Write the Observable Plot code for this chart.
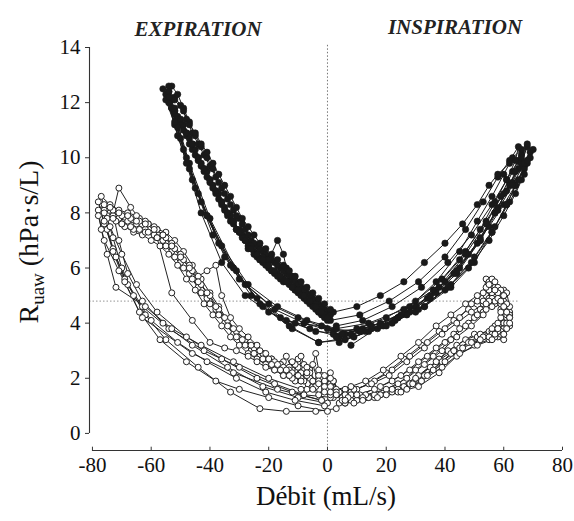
<!DOCTYPE html>
<html><head><meta charset="utf-8">
<script src="https://cdn.jsdelivr.net/npm/d3@7"></script>
<script src="https://cdn.jsdelivr.net/npm/@observablehq/plot@0.6"></script>
<style>body{margin:0;background:#fff}</style>
</head><body><div id="chart"></div><script>
const xTicks = [-80,-60,-40,-20,0,20,40,60,80];
const yTicks = [0,2,4,6,8,10,12,14];
const phases = ["EXPIRATION","INSPIRATION"];
const xLabel = "Débit (mL/s)";

// filled circles (upper family of loops)
const filled1 = [[3,3.9],[12,4.1],[22,4.6],[32,5.3],[41,6.2],[49,7.2],[56,8.3],[61,9.2],[65,9.9],[68,10.4],[66,9.8],[63,9.1],[58,8.2],[52,7.0],[44,5.8],[35,4.9],[24,4.2],[12,3.8],[2,3.7],[-8,4.0],[-18,4.5],[-28,5.4],[-37,6.9],[-45,8.9],[-51,10.8],[-55,12.3],[-54,12.4],[-52,12.2],[-50,11.9],[-48,11.4],[-46,10.9],[-44,10.5],[-42,10.1],[-40,9.7],[-38,9.3],[-36,8.9],[-34,8.5],[-32,8.1],[-30,7.8],[-28,7.4],[-26,7.0],[-24,6.8],[-22,6.6],[-20,6.4],[-18,6.2],[-16,6.0],[-14,5.8],[-12,5.6],[-10,5.4],[-8,5.2],[-6,5.0],[-4,4.8],[-2,4.6],[0,4.4]];
const filled2 = [[2,3.6],[10,3.8],[20,4.2],[30,4.8],[39,5.6],[47,6.6],[54,7.7],[60,8.7],[65,9.6],[69,10.2],[67,9.7],[64,9.0],[60,8.3],[55,7.5],[48,6.5],[40,5.5],[30,4.6],[18,4.0],[6,3.6],[-4,3.7],[-14,4.1],[-24,4.9],[-33,6.1],[-41,7.9],[-48,10.0],[-53,12.1],[-54,12.6],[-53,12.6],[-51,12.3],[-49,11.8],[-47,11.3],[-45,10.8],[-43,10.4],[-41,10.0],[-39,9.6],[-37,9.1],[-35,8.7],[-33,8.3],[-31,7.9],[-29,7.6],[-27,7.2],[-25,6.9],[-23,6.7],[-21,6.5],[-19,6.3],[-17,6.1],[-15,5.9],[-13,5.7],[-11,5.5],[-9,5.3],[-7,5.1],[-5,4.9],[-3,4.7],[-1,4.5],[1,4.3]];
const filled3 = [[4,3.3],[14,3.7],[24,4.2],[34,4.9],[43,5.8],[51,6.9],[57,8.0],[62,9.0],[66,9.8],[68,10.5],[66,10.1],[63,9.5],[59,8.6],[54,7.6],[47,6.5],[38,5.3],[28,4.4],[17,3.8],[6,3.4],[-3,3.3],[-12,3.8],[-22,4.6],[-31,5.9],[-40,7.8],[-47,9.8],[-52,11.6],[-54,12.2],[-52,11.7],[-50,11.2],[-48,10.8],[-46,10.3],[-44,9.9],[-42,9.5],[-40,9.1],[-38,8.7],[-36,8.3],[-34,7.9],[-32,7.6],[-30,7.3],[-28,7.0],[-26,6.7],[-24,6.4],[-22,6.2],[-20,6.0],[-18,5.8],[-16,5.6],[-14,5.5],[-12,5.3],[-10,5.1],[-8,4.9],[-6,4.7],[-4,4.5],[-2,4.3],[0,4.1]];
const filled4 = [[8,3.2],[18,3.9],[28,4.6],[37,5.5],[45,6.6],[51,7.7],[56,8.6],[60,9.4],[63,10.0],[66,10.3],[64,9.5],[61,8.8],[57,8.0],[52,7.1],[45,6.0],[37,5.1],[27,4.3],[15,3.8],[4,3.5],[-6,3.8],[-16,4.2],[-26,5.0],[-35,6.4],[-43,8.4],[-49,10.3],[-53,11.8],[-51,11.5],[-49,11.2],[-47,10.7],[-45,10.3],[-43,9.8],[-41,9.5],[-39,9.0],[-37,8.7],[-35,8.2],[-33,7.9],[-31,7.4],[-29,7.2],[-27,6.8],[-25,6.6],[-23,6.3],[-21,6.2],[-19,5.9],[-17,5.8],[-15,5.5],[-13,5.5],[-11,5.2],[-9,5.1],[-7,4.8],[-5,4.7],[-3,4.4],[-1,4.3]];
const filled5 = [[1,4.1],[11,4.3],[21,4.8],[31,5.5],[40,6.4],[47,7.4],[53,8.4],[58,9.3],[62,9.9],[65,10.4],[64,9.9],[61,9.2],[57,8.4],[52,7.4],[45,6.3],[36,5.2],[26,4.5],[14,4.0],[3,3.8],[-7,4.1],[-17,4.6],[-27,5.4],[-36,6.8],[-44,8.7],[-50,10.7],[-54,12.0],[-52,11.7],[-50,11.3],[-48,10.9],[-46,10.5],[-44,10.0],[-42,9.6],[-40,9.2],[-38,8.8],[-36,8.4],[-34,8.0],[-32,7.7],[-30,7.4],[-28,7.1],[-26,6.8],[-24,6.5],[-22,6.4],[-20,6.3],[-17,7.0],[-15,6.5],[-14,6.0],[-12,5.7],[-10,5.4],[-8,5.2],[-6,5.0],[-4,4.7],[-2,4.5],[0,4.2]];
const filled6 = [[3,3.5],[13,3.7],[23,4.1],[33,4.6],[42,5.3],[50,6.2],[56,7.3],[61,8.3],[64,9.0],[67,9.6],[69,10.0],[67,9.4],[64,8.7],[60,7.9],[55,7.0],[48,6.0],[40,5.2],[30,4.4],[19,3.9],[8,3.6],[-2,3.9],[-11,4.0],[-20,4.4],[-28,5.0],[-36,6.2],[-43,8.0],[-48,9.8],[-52,11.2],[-55,12.1],[-53,11.8],[-51,11.4],[-49,11.0],[-47,10.5],[-45,10.1],[-43,9.7],[-41,9.3],[-39,8.9],[-37,8.5],[-35,8.1],[-33,7.7],[-31,7.4],[-29,7.1],[-27,6.7],[-25,6.5],[-23,6.3],[-21,6.1],[-19,5.9],[-17,5.7],[-15,5.6],[-13,5.4],[-11,5.2],[-9,5.0],[-7,4.9],[-5,4.6],[-3,4.4],[-1,4.2]];
const filled7 = [[2,4.4],[10,4.6],[18,5.0],[26,5.5],[33,6.2],[40,6.9],[46,7.6],[51,8.3],[55,9.0],[58,9.4],[62,9.8],[66,10.0],[68,9.8],[66,9.2],[62,8.4],[57,7.5],[50,6.4],[42,5.4],[33,4.6],[22,4.0],[11,3.7],[0,3.8],[-10,4.2],[-20,4.7],[-30,5.6],[-39,7.2],[-46,9.2],[-51,11.1],[-54,12.4],[-52,12.1],[-49,11.7],[-47,11.2],[-45,10.9],[-43,10.5],[-41,10.2],[-39,9.8],[-37,9.4],[-35,9.0],[-33,8.6],[-31,8.2],[-29,7.8],[-27,7.5],[-25,7.2],[-23,6.9],[-21,6.7],[-19,6.5],[-17,6.3],[-15,6.1],[-13,5.9],[-11,5.7],[-9,5.5],[-7,5.3],[-5,5.1],[-3,4.9],[-1,4.7],[1,4.5]];
const filled8 = [[5,3.6],[15,3.9],[25,4.3],[35,5.0],[44,5.9],[52,7.0],[58,8.1],[63,9.0],[67,9.8],[70,10.3],[68,9.9],[65,9.2],[61,8.3],[56,7.3],[49,6.2],[41,5.3],[31,4.5],[20,3.9],[9,3.5],[-3,3.3],[-13,3.9],[-23,4.7],[-32,6.0],[-41,7.9],[-47,9.6],[-52,11.3],[-56,12.5],[-54,12.2],[-52,11.8],[-50,11.4],[-48,10.9],[-46,10.5],[-44,10.0],[-42,9.6],[-40,9.2],[-38,8.8],[-36,8.4],[-34,8.0],[-32,7.7],[-30,7.3],[-28,7.0],[-26,6.7],[-24,6.5],[-22,6.3],[-20,6.1],[-18,5.9],[-16,5.7],[-14,5.5],[-12,5.3],[-10,5.2],[-8,5.0],[-6,4.8],[-4,4.6],[-2,4.4],[0,4.2]];

// open circles (lower family of loops)
const open1 = [[2,1.3],[-8,1.4],[-18,1.8],[-30,2.4],[-42,3.0],[-54,3.8],[-63,4.6],[-69,5.6],[-73,6.7],[-76,7.6],[-78,8.4],[-77,8.1],[-74,8.0],[-71,7.8],[-68,7.7],[-65,7.6],[-62,7.4],[-59,7.2],[-56,7.0],[-53,6.6],[-50,6.2],[-47,5.8],[-44,5.3],[-41,4.9],[-38,4.5],[-35,4.0],[-32,3.6],[-29,3.3],[-26,3.0],[-23,2.8],[-20,2.6],[-17,2.4],[-15,2.6],[-13,2.1],[-11,2.3],[-9,1.9],[-7,2.2],[-5,1.7],[-3,2.0],[-1,1.6],[1,1.8],[3,1.5],[6,1.6],[10,1.6],[16,1.9],[22,2.3],[28,2.8],[34,3.3],[40,3.8],[45,4.2],[49,4.7],[52,4.5],[54,5.0],[56,4.7],[57,5.3],[59,5.0],[60,5.2],[61,4.6],[62,4.3],[60,4.0],[59,4.2],[57,3.9],[55,3.7],[50,3.6],[44,3.2],[38,2.7],[31,2.1],[24,1.6],[16,1.3],[8,1.2]];
const open2 = [[0,1.1],[-10,1.3],[-22,1.7],[-34,2.4],[-46,3.2],[-56,4.0],[-63,4.8],[-68,5.8],[-71,7.0],[-73,8.0],[-71,8.9],[-67,8.2],[-64,7.8],[-61,7.6],[-58,7.4],[-55,7.3],[-52,7.0],[-49,6.6],[-46,6.1],[-43,5.6],[-40,5.1],[-37,4.6],[-34,4.1],[-31,3.7],[-28,3.4],[-25,3.1],[-22,2.9],[-19,2.7],[-16,2.5],[-14,2.8],[-12,2.3],[-10,2.6],[-8,2.0],[-6,2.3],[-4,1.8],[-2,2.1],[0,1.6],[2,1.9],[4,1.5],[8,1.5],[14,1.8],[20,2.2],[26,2.7],[32,3.2],[38,3.7],[43,4.1],[48,4.5],[51,4.8],[53,5.1],[54,5.6],[55,5.5],[56,5.1],[58,5.3],[59,4.9],[60,4.8],[61,4.5],[62,4.4],[61,4.1],[60,4.0],[58,3.8],[56,3.7],[51,3.5],[45,3.1],[39,2.6],[33,2.1],[26,1.7],[18,1.4],[10,1.2],[4,1.1]];
const open3 = [[3,0.9],[-4,0.8],[-14,0.8],[-23,0.9],[-33,1.5],[-44,2.4],[-55,3.4],[-62,4.3],[-68,5.4],[-72,6.4],[-75,7.4],[-77,8.0],[-75,7.9],[-72,7.7],[-69,7.5],[-66,7.3],[-63,7.2],[-60,7.0],[-57,6.8],[-54,6.5],[-51,6.1],[-48,5.6],[-45,5.2],[-42,4.7],[-39,4.3],[-36,3.9],[-33,3.5],[-30,3.2],[-27,2.9],[-24,2.7],[-21,2.5],[-18,2.3],[-15,2.1],[-13,2.4],[-11,1.9],[-9,2.2],[-7,1.6],[-5,1.9],[-3,1.4],[-1,1.7],[1,1.3],[5,1.3],[11,1.4],[18,1.7],[25,2.1],[31,2.6],[37,3.1],[43,3.6],[48,4.0],[53,4.4],[55,4.9],[57,4.7],[59,5.2],[61,5.1],[62,4.6],[61,4.2],[60,3.8],[59,3.5],[57,3.7],[56,3.8],[52,3.6],[47,3.4],[41,3.0],[35,2.4],[28,1.8],[21,1.5],[13,1.3],[6,1.1]];
const open4 = [[-2,1.2],[-12,1.5],[-24,2.0],[-36,2.7],[-48,3.5],[-58,4.4],[-65,5.4],[-70,6.5],[-74,7.5],[-76,8.1],[-73,7.9],[-70,7.6],[-66,7.4],[-62,7.3],[-58,7.1],[-53,5.1],[-46,4.1],[-40,3.3],[-35,3.1],[-31,3.0],[-27,2.8],[-24,2.6],[-21,2.4],[-18,2.3],[-15,2.1],[-12,2.0],[-10,2.4],[-8,1.9],[-6,2.2],[-4,1.7],[-2,2.0],[0,1.6],[2,1.9],[4,1.5],[9,1.6],[15,1.8],[21,2.1],[27,2.6],[33,3.1],[39,3.6],[44,4.0],[49,4.4],[53,4.7],[55,5.2],[56,4.8],[58,4.9],[59,4.5],[61,4.3],[62,3.9],[60,3.8],[58,3.5],[57,3.6],[53,3.5],[48,3.3],[42,2.9],[36,2.3],[29,1.8],[22,1.5],[14,1.3],[6,1.2]];
const open5 = [[1,1.4],[-9,1.6],[-20,2.0],[-32,2.6],[-43,3.2],[-53,3.8],[-62,4.6],[-72,5.3],[-75,6.5],[-77,7.4],[-78,8.1],[-76,8.3],[-73,8.1],[-70,7.9],[-67,7.8],[-64,7.7],[-61,7.6],[-58,7.4],[-55,7.1],[-52,6.7],[-49,6.3],[-46,5.9],[-43,5.4],[-40,5.0],[-37,4.5],[-34,4.1],[-31,3.7],[-28,3.4],[-25,3.1],[-22,2.9],[-19,2.7],[-16,2.5],[-13,2.3],[-10,2.1],[-8,2.5],[-6,2.0],[-4,2.9],[-3,2.3],[-1,1.9],[1,2.2],[3,1.6],[8,1.7],[13,1.9],[19,2.3],[25,2.8],[31,3.3],[37,3.9],[42,4.3],[47,4.7],[51,5.0],[54,5.3],[56,5.6],[57,5.5],[58,5.1],[60,5.0],[61,4.7],[62,4.3],[61,3.9],[59,3.6],[60,3.4],[57,3.5],[55,3.4],[50,3.2],[44,2.8],[38,2.2],[31,1.7],[24,1.5],[16,1.4],[8,1.4]];
const open6 = [[-1,1.0],[-11,1.2],[-21,1.5],[-31,2.0],[-41,2.6],[-51,3.3],[-60,4.1],[-66,5.0],[-70,6.0],[-73,7.1],[-75,7.8],[-77,8.6],[-74,8.3],[-71,8.1],[-68,8.0],[-65,7.9],[-62,7.7],[-59,7.5],[-56,7.2],[-53,6.9],[-50,6.5],[-47,6.1],[-44,5.7],[-41,5.9],[-38,6.1],[-36,5.0],[-33,4.2],[-30,3.8],[-27,3.5],[-24,3.2],[-21,2.9],[-18,2.6],[-15,2.4],[-12,2.2],[-10,2.7],[-9,2.0],[-7,2.4],[-5,1.9],[-3,2.1],[-1,1.7],[1,2.0],[3,1.5],[6,1.4],[10,1.4],[16,1.6],[22,1.9],[28,2.3],[34,2.8],[40,3.3],[45,3.8],[50,4.2],[54,4.5],[56,4.9],[57,4.8],[59,4.7],[60,4.5],[62,4.2],[61,4.0],[59,3.7],[58,4.0],[56,3.6],[55,3.5],[49,3.3],[43,3.0],[37,2.6],[30,2.0],[22,1.6],[14,1.3],[6,1.1]];
const open7 = [[-2,1.2],[-17,1.6],[-32,2.2],[-46,2.9],[-63,4.2],[-71,5.9],[-76,7.0],[-78,7.9],[-76,8.0],[-73,7.8],[-70,7.6],[-67,7.5],[-64,7.4],[-61,7.3],[-58,7.1],[-55,6.8],[-52,6.4],[-49,6.0],[-46,5.6],[-43,5.1],[-40,4.7],[-37,4.3],[-34,3.9],[-31,3.5],[-28,3.2],[-25,2.9],[-22,2.7],[-19,2.5],[-16,2.3],[-13,2.1],[-11,2.5],[-9,1.9],[-7,2.1],[-5,1.6],[-3,1.9],[-1,1.5],[1,1.7],[3,1.4],[7,1.3],[13,1.4],[20,1.6],[27,2.0],[33,2.5],[39,3.0],[44,3.5],[49,3.9],[53,4.3],[55,4.8],[56,4.6],[58,4.9],[59,4.4],[60,4.6],[62,4.2],[61,3.8],[60,3.6],[58,3.7],[57,3.6],[52,3.4],[46,3.1],[40,2.6],[34,2.1],[27,1.6],[20,1.4],[12,1.3],[5,1.2]];
const open8 = [[0,0.8],[-10,1.0],[-20,1.3],[-30,1.6],[-38,1.9],[-48,2.6],[-57,3.4],[-64,4.4],[-69,5.5],[-73,6.6],[-76,7.7],[-74,8.2],[-71,8.0],[-68,7.9],[-65,7.7],[-62,7.6],[-59,7.4],[-56,7.2],[-53,6.8],[-50,6.4],[-47,6.0],[-44,5.5],[-41,5.1],[-38,4.6],[-35,4.2],[-32,3.8],[-29,3.4],[-26,3.2],[-23,3.0],[-20,2.7],[-17,2.5],[-14,2.3],[-12,2.6],[-10,2.1],[-9,2.8],[-7,2.2],[-5,2.5],[-3,1.8],[-1,2.1],[1,1.5],[6,1.2],[12,1.2],[18,1.4],[24,1.8],[30,2.3],[36,2.8],[42,3.4],[47,3.9],[51,4.3],[53,4.8],[54,4.7],[55,5.4],[57,5.2],[59,4.8],[60,5.0],[61,4.4],[62,4.0],[60,3.6],[58,3.8],[56,3.4],[51,3.2],[45,2.9],[39,2.4],[32,1.9],[25,1.5],[17,1.3],[9,1.1]];

const filledLoops = [filled1,filled2,filled3,filled4,filled5,filled6,filled7,filled8];
const openLoops = [open1,open2,open3,open4,open5,open6,open7,open8];
const refLevel = 4.8;

const toRows = (loops, tag) => loops.flatMap((loop, i) => loop.map(([x, y]) => ({x, y, loop: tag + i})));
const filledRows = toRows(filledLoops, "f");
const openRows = toRows(openLoops, "o");

const yMin = -0.62;
const serif = "'Liberation Serif', 'Times New Roman', serif";

const chart = Plot.plot({
  width: 574, height: 521,
  marginTop: 47, marginBottom: 71, marginLeft: 89, marginRight: 12,
  x: {domain: [-81, 80]},
  y: {domain: [yMin, 14]},
  style: {fontFamily: serif, background: "#fff", color: "#111"},
  marks: [
    Plot.ruleX([0], {y1: -0.45, y2: 14.15, stroke: "#777", strokeWidth: 1, strokeDasharray: "1.5,2"}),
    Plot.ruleY([refLevel], {x1: -81, x2: 65, stroke: "#aaa", strokeWidth: 1.2, strokeDasharray: "1.5,2"}),
    Plot.ruleX([-81], {y1: 0, y2: 14, stroke: "#333", strokeWidth: 1.1}),
    Plot.ruleY([yMin], {x1: -80, x2: 80, stroke: "#333", strokeWidth: 1.1}),
    Plot.ruleX(xTicks, {y1: yMin, y2: yMin + 0.12, stroke: "#333"}),
    Plot.axisY(yTicks, {anchor: "left", tickSize: 4, tickPadding: 5, fontSize: 21, label: null, tickFormat: d => String(d), stroke: "#333"}),
    Plot.axisX(xTicks, {anchor: "bottom", tickSize: 0, tickPadding: 7, fontSize: 21, label: null, tickFormat: d => String(d)}),
    Plot.line(filledRows, {x: "x", y: "y", z: "loop", stroke: "#1a1a1a", strokeWidth: 1, curve: "linear"}),
    Plot.dot(filledRows, {x: "x", y: "y", r: 3.2, fill: "#1a1a1a", stroke: "#1a1a1a", strokeWidth: 0.6}),
    Plot.line(openRows, {x: "x", y: "y", z: "loop", stroke: "#222", strokeWidth: 1, curve: "linear"}),
    Plot.dot(openRows, {x: "x", y: "y", r: 3.0, fill: "#fff", stroke: "#222", strokeWidth: 1}),
    Plot.text([phases[0]], {frameAnchor: "top", dx: -128, dy: -26, fontSize: 21, fontWeight: "bold", fontStyle: "italic", fill: "#222"}),
    Plot.text([phases[1]], {frameAnchor: "top", dx: 129, dy: -28, fontSize: 21, fontWeight: "bold", fontStyle: "italic", fill: "#222"}),
    Plot.text([xLabel], {frameAnchor: "bottom", dy: 54, fontSize: 27, fill: "#111"})
  ]
});

const svg = d3.select(chart);
const yl = svg.append("text")
  .attr("transform", "translate(38,242) rotate(-90)")
  .attr("text-anchor", "middle")
  .attr("font-family", serif)
  .attr("font-size", 28)
  .attr("fill", "#111");
yl.append("tspan").text("R");
yl.append("tspan").attr("font-size", 19).attr("dy", 6).text("uaw");
yl.append("tspan").attr("dy", -6).text(" (hPa·s/L)");

document.getElementById("chart").append(chart);
</script></body></html>
